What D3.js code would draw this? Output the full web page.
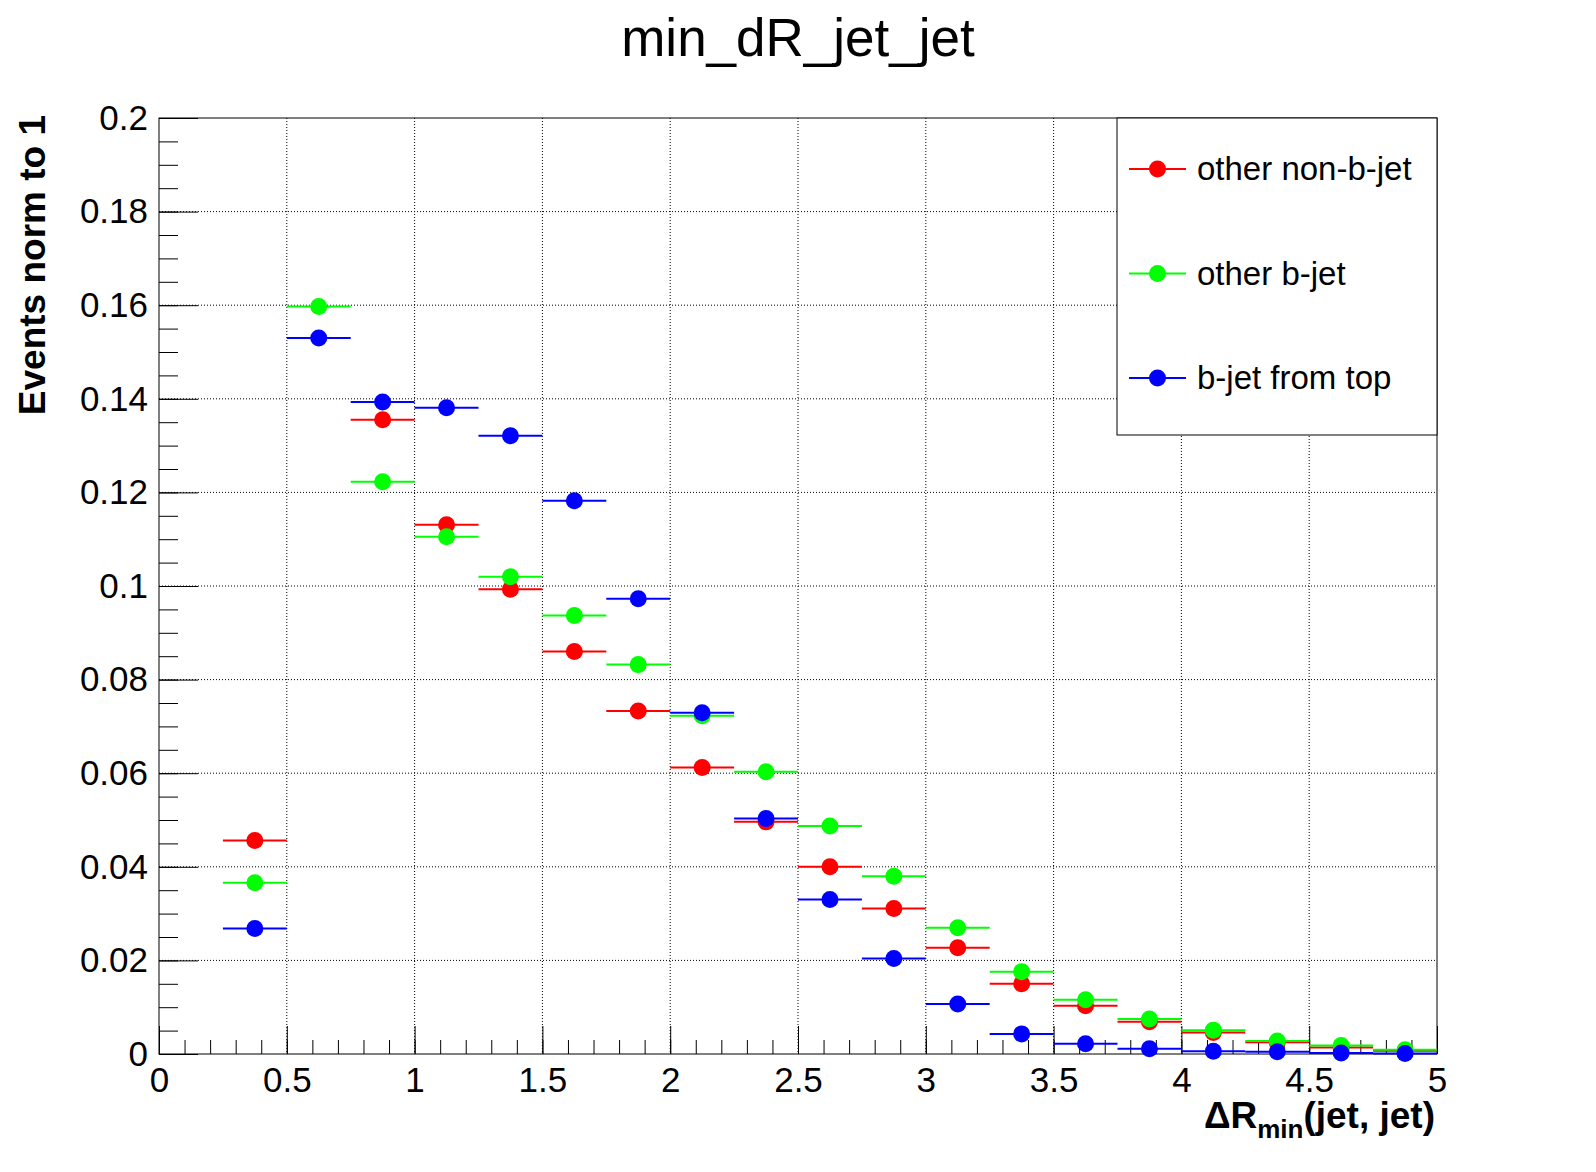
<!DOCTYPE html>
<html>
<head>
<meta charset="utf-8">
<script src="https://cdn.jsdelivr.net/npm/d3@7"></script>
<style>
  body { margin: 0; background: #fff; }
  text { font-family: "Liberation Sans", Arial, sans-serif; }
</style>
</head>
<body>
<script>
const w = 1596;
const h = 1172;

// bin centres (width 0.25)
const binCenters = [0.375, 0.625, 0.875, 1.125, 1.375, 1.625, 1.875, 2.125, 2.375, 2.625,
                    2.875, 3.125, 3.375, 3.625, 3.875, 4.125, 4.375, 4.625, 4.875];
const binWidth = 0.25;

const otherNonB = [0.0456, 0.201, 0.1355, 0.1131, 0.0993, 0.0860, 0.0733, 0.0612, 0.0496, 0.0400,
                   0.0311, 0.0227, 0.0150, 0.0103, 0.0069, 0.0046, 0.0025, 0.0014, 0.0007];
const otherB    = [0.0366, 0.1597, 0.1223, 0.1105, 0.1020, 0.0937, 0.0832, 0.0723, 0.0603, 0.0487,
                   0.0380, 0.0270, 0.0176, 0.0116, 0.0075, 0.0051, 0.0028, 0.0018, 0.0009];
const bFromTop  = [0.0268, 0.1530, 0.1393, 0.1381, 0.1321, 0.1182, 0.0973, 0.0729, 0.0503, 0.0330,
                   0.0204, 0.0107, 0.0043, 0.0022, 0.0011, 0.0006, 0.0005, 0.0002, 0.0001];

const seriesNames = ["other non-b-jet", "other b-jet", "b-jet from top"];
const seriesColors = ["#ff0000", "#00ff00", "#0000ff"];

const xTicks = [0, 0.5, 1, 1.5, 2, 2.5, 3, 3.5, 4, 4.5, 5];
const xTickLabels = ["0", "0.5", "1", "1.5", "2", "2.5", "3", "3.5", "4", "4.5", "5"];
const yTicks = [0, 0.02, 0.04, 0.06, 0.08, 0.1, 0.12, 0.14, 0.16, 0.18, 0.2];
const yTickLabels = ["0", "0.02", "0.04", "0.06", "0.08", "0.1", "0.12", "0.14", "0.16", "0.18", "0.2"];

const padL = 159, padR = 1437, padT = 118, padB = 1054;

const svg = d3.select("body").append("svg").attr("width", w).attr("height", h);

const xScale = d3.scaleLinear().domain([0, 5]).range([padL, padR]);
const yScale = d3.scaleLinear().domain([0, 0.2]).range([padB, padT]);

// grid (dotted)
svg.append("g").selectAll("line")
    .data(xTicks.slice(1, -1))
    .enter().append("line")
    .attr("x1", d => xScale(d)).attr("x2", d => xScale(d))
    .attr("y1", padT).attr("y2", padB)
    .attr("stroke", "#000").attr("stroke-dasharray", "1,2");

svg.append("g").selectAll("line")
    .data(yTicks.slice(1, -1))
    .enter().append("line")
    .attr("y1", d => yScale(d)).attr("y2", d => yScale(d))
    .attr("x1", padL).attr("x2", padR)
    .attr("stroke", "#000").attr("stroke-dasharray", "1,2");

// minor ticks
const xMinor = d3.range(0, 51).map(i => i / 10);
const yMinor = d3.range(0, 41).map(i => i * 0.005);

svg.append("g")
    .attr("transform", "translate(0," + padB + ")")
    .call(d3.axisBottom(xScale).tickValues(xMinor).tickSize(-14).tickFormat(""))
    .call(g => g.select(".domain").remove());

svg.append("g")
    .attr("transform", "translate(" + padL + ",0)")
    .call(d3.axisLeft(yScale).tickValues(yMinor).tickSize(-19).tickFormat(""))
    .call(g => g.select(".domain").remove());

// major ticks + labels
const xAxis = svg.append("g")
    .attr("transform", "translate(0," + padB + ")")
    .call(d3.axisBottom(xScale).tickValues(xTicks).tickSize(-28).tickPadding(13)
        .tickFormat((d, i) => xTickLabels[i]));
xAxis.select(".domain").remove();
xAxis.selectAll("text").style("font-size", "35px").attr("fill", "#000");

const yAxis = svg.append("g")
    .attr("transform", "translate(" + padL + ",0)")
    .call(d3.axisLeft(yScale).tickValues(yTicks).tickSize(-39).tickPadding(11)
        .tickFormat((d, i) => yTickLabels[i]));
yAxis.select(".domain").remove();
yAxis.selectAll("text").style("font-size", "35px").attr("fill", "#000");

// frame
svg.append("rect")
    .attr("x", padL).attr("y", padT)
    .attr("width", padR - padL).attr("height", padB - padT)
    .attr("fill", "none").attr("stroke", "#000").attr("stroke-width", 1);

// data: horizontal bin-width bars + markers, points above the y range are not drawn
const allSeries = [otherNonB, otherB, bFromTop];
allSeries.forEach((vals, s) => {
    const pts = binCenters.map((c, i) => ({ x: c, y: vals[i] }))
        .filter(p => p.y <= 0.2);
    const g = svg.append("g");
    g.selectAll("line")
        .data(pts)
        .enter().append("line")
        .attr("x1", p => xScale(p.x - binWidth / 2))
        .attr("x2", p => xScale(p.x + binWidth / 2))
        .attr("y1", p => yScale(p.y)).attr("y2", p => yScale(p.y))
        .attr("stroke", seriesColors[s]).attr("stroke-width", 2);
    g.selectAll("circle")
        .data(pts)
        .enter().append("circle")
        .attr("cx", p => xScale(p.x))
        .attr("cy", p => yScale(p.y))
        .attr("r", 8.5)
        .attr("fill", seriesColors[s]);
});

// legend
const legX = 1117, legY = 118, legW = padR - 1117, legH = 317;
svg.append("rect")
    .attr("x", legX).attr("y", legY).attr("width", legW).attr("height", legH)
    .attr("fill", "#fff").attr("stroke", "#000");

const legend = svg.selectAll(".leg")
    .data(seriesNames)
    .enter().append("g")
    .attr("class", "leg")
    .attr("transform", (d, i) => "translate(0," + (169 + i * 104.5) + ")");
legend.append("line")
    .attr("x1", 1129).attr("x2", 1186)
    .attr("stroke", (d, i) => seriesColors[i]).attr("stroke-width", 2);
legend.append("circle")
    .attr("cx", 1157.5).attr("r", 8.5)
    .attr("fill", (d, i) => seriesColors[i]);
legend.append("text")
    .attr("x", 1197).attr("y", 11)
    .style("font-size", "33px")
    .text(d => d);

// title
svg.append("text")
    .attr("x", 798).attr("y", 56)
    .attr("text-anchor", "middle")
    .style("font-size", "53px")
    .text("min_dR_jet_jet");

// y axis title
svg.append("text")
    .attr("transform", "translate(45,115) rotate(-90)")
    .attr("text-anchor", "end")
    .style("font-size", "37px")
    .style("font-weight", "bold")
    .text("Events norm to 1");

// x axis title
const xt = svg.append("text")
    .attr("x", 1435).attr("y", 1128)
    .attr("text-anchor", "end")
    .style("font-size", "37px")
    .style("font-weight", "bold");
xt.append("tspan").text("\u0394R");
xt.append("tspan").attr("dy", 10).style("font-size", "26px").text("min");
xt.append("tspan").attr("dy", -10).text("(jet, jet)");
</script>
</body>
</html>
